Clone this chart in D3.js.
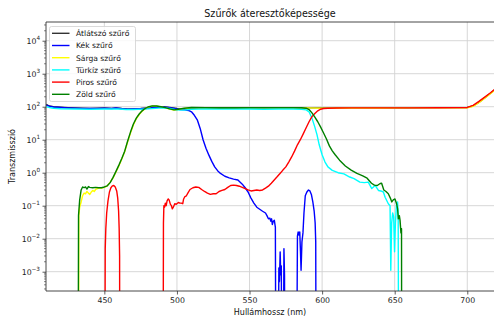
<!DOCTYPE html>
<html>
<head>
<meta charset="utf-8">
<script src="https://cdn.jsdelivr.net/npm/d3@7"></script>
<style>
  html, body { margin: 0; padding: 0; background: #fff; }
  svg { display: block; font-family: "DejaVu Sans", sans-serif; }
</style>
</head>
<body>
<svg id="chart" width="494" height="320"></svg>
<script>
// Transmission spectra [wavelength nm, transmission] for each filter
const FLOOR = 1e-6; // stands in for "no measurable signal"

const clearFilter = [[410,118],[412,105],[415,100],[420,96],[425,93],[430,91],[435,90],[440,89],[445,90],[450,91],[455,89],[458,92],[462,88],[466,85],[470,86],[475,88],[480,92],[485,97],[490,100],[495,95],[500,88],[505,84],[510,88],[515,92],[520,92],[530,91],[540,92],[550,91],[560,91],[570,92],[580,92],[590,92],[600,92],[620,92],[640,93],[660,93],[680,94],[700,95],[704,105],[708,135],[712,185],[716,255],[719,330]];

const blueFilter = [[410,112],[412,104],[415,98],[420,95],[425,92],[430,90],[435,89],[440,88],[445,89],[450,90],[455,88],[458,91],[462,87],[466,84],[470,85],[475,87],[480,90],[485,95],[490,98],[494,95],[498,88],[502,82],[505,80],[508,77],[510,70],[512,55],[514,40],[516,22],[518,10],[520,5.5],[522,3.4],[524,2.2],[526,1.5],[528,1.15],[530,0.95],[533,0.78],[536,0.7],[539,0.64],[542,0.6],[545,0.45],[547,0.35],[549,0.26],[551,0.17],[553,0.12],[555,0.09],[557,0.078],[559,0.068],[561,0.06],[562,0.05],[563,0.04],[564,0.042],[564.6,0.034],[565.2,0.04],[565.7,0.027],[566.3,0.033],[567.1,0.036],[567.8,0.022],[568.1,FLOOR],[569.8,FLOOR],[570.2,0.0013],[570.6,0.0005],[571.1,0.004],[571.5,0.0008],[571.9,0.0015],[572.2,FLOOR],[573.3,FLOOR],[573.7,0.005],[574.1,0.0008],[574.3,FLOOR],[582.5,FLOOR],[583,0.012],[583.5,0.016],[584.1,0.013],[584.6,0.016],[585.1,0.004],[585.5,0.0011],[586.1,0.008],[586.8,0.015],[587.5,0.06],[588.4,0.2],[589.5,0.26],[590.6,0.3],[591.6,0.28],[592.6,0.22],[593.6,0.13],[594.5,0.07],[595.2,0.03],[595.6,0.008],[595.8,FLOOR]];

const yellowFilter = [[410,FLOOR],[432.2,FLOOR],[432.4,0.05],[433,0.09],[434,0.13],[435,0.2],[436,0.24],[437,0.23],[438,0.27],[439,0.24],[440,0.22],[441,0.26],[442,0.29],[443,0.27],[444,0.31],[446,0.34],[448,0.34],[450,0.36],[452,0.4],[454,0.52],[456,0.7],[458,1.05],[460,1.6],[462,2.6],[464,4.3],[466,8.5],[468,16],[470,28],[472,43],[474,58],[476,73],[478,86],[480,96],[483,104],[486,104],[489,99],[492,92],[495,85],[498,79],[501,82],[505,88],[510,92],[520,92],[540,92],[560,92],[580,92],[590,92],[600,90],[620,91],[640,91],[660,92],[680,92],[700,93],[704,103],[708,132],[712,182],[716,250],[719,320]];

const cyanFilter = [[410,100],[412,95],[415,90],[420,87],[430,85],[440,84],[450,85],[460,85],[465,82],[470,82],[480,86],[490,92],[495,88],[500,80],[505,79],[510,84],[520,86],[530,85],[540,85],[550,85],[560,84],[570,85],[580,85],[586,84],[589,80],[591,70],[593,45],[595,24],[596.5,14],[598,7],[600,3.5],[602,2.1],[604,1.5],[607,1.18],[611,1.0],[615,0.92],[619,0.74],[622,0.66],[626,0.52],[629,0.5],[631.8,0.52],[634.2,0.33],[636.5,0.41],[638.8,0.29],[640.5,0.28],[642.2,0.26],[643.4,0.18],[645.6,0.115],[646.8,0.1],[647.3,0.0011],[647.9,0.03],[648.6,0.06],[649.3,0.045],[649.9,0.004],[650.5,0.03],[651.3,0.12],[652,0.13],[652.4,0.05],[652.7,FLOOR]];

const redFilter = [[410,FLOOR],[450.4,FLOOR],[450.6,0.005],[451,0.02],[451.6,0.06],[452.5,0.14],[453.5,0.26],[454.5,0.35],[455.5,0.4],[456.5,0.41],[457.5,0.37],[458.5,0.28],[459.2,0.17],[459.8,0.07],[460.2,0.02],[460.5,0.003],[460.6,FLOOR],[490.5,FLOOR],[490.7,0.03],[491,0.1],[491.5,0.09],[492,0.12],[492.6,0.1],[493.2,0.14],[494,0.16],[494.6,0.15],[495.5,0.11],[496.2,0.1],[496.8,0.08],[497.5,0.09],[498.5,0.115],[499.5,0.11],[501,0.125],[502,0.12],[503,0.12],[504,0.115],[504.6,0.16],[505.5,0.19],[506.5,0.2],[507.5,0.24],[509,0.31],[511,0.35],[513,0.37],[515,0.36],[517,0.31],[519,0.27],[521,0.24],[523,0.22],[525,0.23],[527,0.23],[529,0.27],[531,0.29],[533,0.31],[535,0.36],[537,0.41],[539,0.42],[541,0.41],[543,0.39],[545,0.36],[547,0.33],[549,0.3],[551,0.28],[553,0.29],[555,0.3],[557,0.29],[559,0.3],[561,0.34],[563,0.39],[565,0.48],[567,0.6],[569,0.75],[571,0.95],[573,1.2],[575,1.5],[577,2.1],[579,3],[581,4.5],[583,7],[585,10],[587,15],[589,23],[591,35],[593,50],[595,62],[597,75],[599,84],[601,88],[604,90],[610,91],[620,92],[640,92],[660,92],[680,93],[700,95],[704,110],[708,145],[712,195],[716,265],[719,340]];

const greenFilter = [[410,FLOOR],[432,FLOOR],[432.2,0.05],[433,0.15],[434,0.3],[435,0.37],[436,0.35],[437,0.37],[438,0.32],[439,0.38],[440,0.36],[442,0.35],[444,0.36],[446,0.35],[448,0.35],[450,0.37],[452,0.4],[454,0.5],[456,0.72],[458,1.1],[460,1.7],[462,2.7],[464,4.5],[466,9],[468,17],[470,30],[472,45],[474,60],[476,75],[478,88],[480,98],[483,106],[486,105],[489,100],[492,94],[495,86],[498,80],[501,84],[505,90],[510,95],[520,94],[530,93],[540,93],[550,94],[560,94],[570,94],[580,94],[586,93],[589,90],[591,82],[593,65],[595,48],[597,35],[599,24],[601,16],[603,10.5],[605,6.5],[607,4.6],[609,3.5],[612,2.4],[616,1.6],[620,1.2],[624,0.95],[628,0.8],[631,0.68],[634,0.48],[636,0.42],[638,0.41],[640,0.47],[641,0.48],[642.5,0.3],[644,0.27],[645.6,0.23],[647,0.17],[648,0.13],[649,0.15],[650.2,0.16],[651.4,0.11],[652,0.08],[652.5,0.04],[653.2,0.05],[653.7,0.036],[654.3,0.015],[654.7,0.02],[654.8,FLOOR]];

const seriesNames = ["Átlátszó szűrő","Kék szűrő","Sárga szűrő","Türkíz szűrő","Piros szűrő","Zöld szűrő"];
const seriesData = [clearFilter, blueFilter, yellowFilter, cyanFilter, redFilter, greenFilter];
const seriesColors = ["#333333","#0000ff","#ffff00","#00ffff","#ff0000","#008000"];

const xTicks = [450, 500, 550, 600, 650, 700];
const yTickExps = [-3, -2, -1, 0, 1, 2, 3, 4];

const titleText = "Szűrők áteresztőképessége";
const xLabel = "Hullámhossz (nm)";
const yLabel = "Transzmisszió";

// Layout
const W = 494, H = 320;
const m = { left: 46, top: 22, right: 494, bottom: 291 };

const svg = d3.select("#chart");

const x = d3.scaleLinear().domain([409.8, 718.4]).range([m.left, m.right]);
const y = d3.scaleLog().domain([10 ** -3.585, 10 ** 4.567]).range([m.bottom, m.top]);

svg.append("defs").append("clipPath").attr("id", "plotclip")
  .append("rect").attr("x", m.left).attr("y", m.top)
  .attr("width", m.right - m.left).attr("height", m.bottom - m.top);

// Grid
const grid = svg.append("g").attr("stroke", "#d3d3d3").attr("stroke-width", 0.9);
grid.selectAll(".gx").data(xTicks).join("line")
  .attr("x1", d => x(d)).attr("x2", d => x(d))
  .attr("y1", m.top).attr("y2", m.bottom);
grid.selectAll(".gy").data(yTickExps).join("line")
  .attr("x1", m.left).attr("x2", m.right)
  .attr("y1", d => y(10 ** d)).attr("y2", d => y(10 ** d));

// Curves
const line = d3.line()
  .x(d => x(d[0]))
  .y(d => y(d[1]));

const curves = svg.append("g").attr("clip-path", "url(#plotclip)");
seriesData.forEach((data, i) => {
  curves.append("path")
    .datum(data)
    .attr("d", line)
    .attr("fill", "none")
    .attr("stroke", seriesColors[i])
    .attr("stroke-width", 1.4)
    .attr("stroke-linejoin", "round");
});

// Axes frame
const frame = svg.append("g").attr("stroke", "#333").attr("stroke-width", 0.9).attr("fill", "none");
frame.append("line").attr("x1", m.left).attr("x2", m.left).attr("y1", m.top).attr("y2", m.bottom);
frame.append("line").attr("x1", m.left).attr("x2", m.right).attr("y1", m.bottom).attr("y2", m.bottom);
frame.append("line").attr("x1", m.left).attr("x2", m.right).attr("y1", m.top).attr("y2", m.top);

// X axis
const xAxis = d3.axisBottom(x).tickValues(xTicks).tickSize(3.5).tickPadding(2.5).tickFormat(d3.format("d"));
const gx = svg.append("g").attr("transform", `translate(0,${m.bottom})`).call(xAxis);
gx.select(".domain").remove();
gx.selectAll(".tick line").attr("stroke", "#333").attr("stroke-width", 0.8);
gx.selectAll(".tick text").attr("font-size", 7.8).attr("fill", "#222")
  .attr("font-family", "DejaVu Sans, sans-serif");

// Y axis: major ticks with power-of-ten labels, plus minor ticks
const yAxis = d3.axisLeft(y).tickValues(yTickExps.map(e => 10 ** e)).tickSize(3.5).tickPadding(2.5).tickFormat("");
const gy = svg.append("g").attr("transform", `translate(${m.left},0)`).call(yAxis);
gy.select(".domain").remove();
gy.selectAll(".tick line").attr("stroke", "#333").attr("stroke-width", 0.8);

const minorVals = [];
for (let e = -4; e <= 4; e++) {
  for (let k = 2; k <= 9; k++) {
    const v = k * 10 ** e;
    if (v > y.domain()[0] && v < y.domain()[1]) minorVals.push(v);
  }
}
svg.append("g").selectAll("line").data(minorVals).join("line")
  .attr("x1", m.left - 2).attr("x2", m.left)
  .attr("y1", d => y(d)).attr("y2", d => y(d))
  .attr("stroke", "#333").attr("stroke-width", 0.6);

const yLabels = svg.append("g").attr("font-size", 7.8).attr("fill", "#222");
yTickExps.forEach(e => {
  const t = yLabels.append("text")
    .attr("x", m.left - 6)
    .attr("y", y(10 ** e) + 3)
    .attr("text-anchor", "end");
  t.append("tspan").text("10");
  t.append("tspan").attr("dy", -4).attr("font-size", 5.7)
    .text(e < 0 ? "\u2212" + Math.abs(e) : String(e));
});

// Titles
svg.append("text").attr("x", (m.left + m.right) / 2).attr("y", 17)
  .attr("text-anchor", "middle").attr("font-size", 9.6).attr("fill", "#111")
  .text(titleText);
svg.append("text").attr("x", (m.left + m.right) / 2).attr("y", 314.5)
  .attr("text-anchor", "middle").attr("font-size", 8).attr("fill", "#111")
  .text(xLabel);
svg.append("text")
  .attr("transform", `translate(15,${(m.top + m.bottom) / 2}) rotate(-90)`)
  .attr("text-anchor", "middle").attr("font-size", 8).attr("fill", "#111")
  .text(yLabel);

// Legend
const lg = svg.append("g");
lg.append("rect").attr("x", 49.5).attr("y", 26.5).attr("width", 86).attr("height", 75)
  .attr("rx", 2).attr("fill", "#fff").attr("fill-opacity", 0.85)
  .attr("stroke", "#d0d0d0").attr("stroke-width", 0.8);
seriesNames.forEach((name, i) => {
  const cy = 33.3 + i * 12.2;
  lg.append("line").attr("x1", 52).attr("x2", 69.5).attr("y1", cy).attr("y2", cy)
    .attr("stroke", seriesColors[i]).attr("stroke-width", 1.4);
  lg.append("text").attr("x", 76).attr("y", cy + 2.8)
    .attr("font-size", 7.6).attr("fill", "#111").text(name);
});
</script>
</body>
</html>
